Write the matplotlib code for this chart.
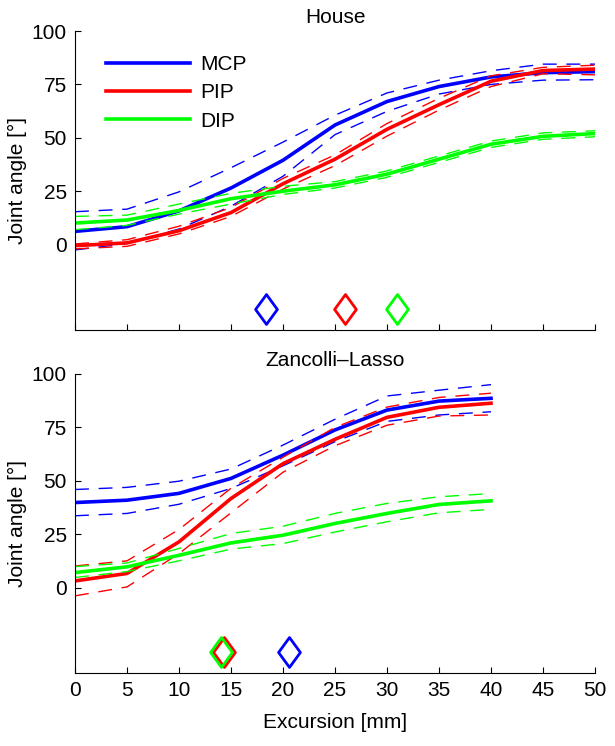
import matplotlib
matplotlib.use("Agg")
import matplotlib.pyplot as plt
from matplotlib.path import Path

plt.rcParams['font.family'] = ['Liberation Sans', 'DejaVu Sans']
plt.rcParams['font.size'] = 15

# excursion [mm]
house_x = [0, 5, 10, 15, 20, 25, 30, 35, 40, 45, 50]
zl_x = [0, 5, 10, 15, 20, 25, 30, 35, 40]

# House: mean and upper / lower dashed bands
house_mcp = [6.2, 8.4, 15.8, 26.5, 39.5, 56, 67, 74, 78.5, 80.5, 81]
house_mcp_hi = [15.4, 16.6, 24.7, 36, 48, 60.6, 71, 77, 81.4, 84.5, 84.5]
house_mcp_lo = [-2.5, 0.5, 7.3, 18, 32, 51.5, 62.4, 70.5, 75, 77, 77.2]
house_pip = [-0.5, 0.8, 6.5, 15, 28.5, 40, 54, 65.5, 76.5, 81.5, 82.2]
house_pip_hi = [0.3, 2.3, 8.6, 17.4, 31, 42, 56.7, 68.5, 79, 83, 84]
house_pip_lo = [-2.0, -0.8, 5.0, 13.2, 26, 37, 50.8, 63, 74, 80, 79.5]
house_dip = [10.1, 11.5, 16, 21.5, 25, 28, 33, 40, 47, 50.7, 52]
house_dip_hi = [13.2, 13.8, 19, 24, 27.3, 29.5, 34.5, 41.5, 48.5, 52.3, 53.3]
house_dip_lo = [7, 9, 14.3, 19, 23.5, 26.5, 31.5, 38.5, 45.5, 49.3, 50.5]

# Zancolli-Lasso
zl_mcp = [39.8, 40.9, 44.1, 51.1, 62, 73.8, 83.1, 87.3, 88.6]
zl_mcp_hi = [45.9, 46.9, 49.8, 55.5, 66.7, 78.8, 89.7, 92.4, 95]
zl_mcp_lo = [33.6, 34.7, 39, 46.4, 57, 68.3, 77.8, 80.8, 82.3]
zl_pip = [3.1, 6.6, 21.4, 41.7, 58, 69.4, 79.7, 84.4, 86.3]
zl_pip_hi = [10.1, 12.5, 27.2, 46.5, 61, 75, 84.5, 89, 91]
zl_pip_lo = [-3.9, 0.3, 15.9, 35, 54, 66.4, 76, 80.3, 80.8]
zl_dip = [7.0, 9.7, 15.1, 20.9, 24.5, 30, 34.7, 38.9, 40.6]
zl_dip_hi = [9.8, 11.5, 18.3, 25.3, 28.7, 34.7, 39.4, 42.5, 44]
zl_dip_lo = [4.7, 7.5, 12.5, 18, 20.6, 26, 30.8, 35, 36.6]

# diamond markers (MCP, PIP, DIP)
house_marks = [18.4, 26.0, 31.0]
zl_marks = [20.6, 14.3, 14.0]
mark_y = -30

joints = ["MCP", "PIP", "DIP"]
colors = [(0, 0, 1), (1, 0, 0), (0, 1, 0)]

diamond = Path([(0, 1), (0.73, 0), (0, -1), (-0.73, 0), (0, 1)],
	[Path.MOVETO, Path.LINETO, Path.LINETO, Path.LINETO, Path.CLOSEPOLY])


def DrawPanel(ax, xs, means, his, los, marks, title):
	handles = []
	for mean, hi, lo, c in zip(means, his, los, colors):
		ax.plot(xs, hi, color=c, lw=1.0, dashes=(10, 7))
		ax.plot(xs, lo, color=c, lw=1.0, dashes=(10, 7))
		h, = ax.plot(xs, mean, color=c, lw=2.6)
		handles.append(h)
	for m, c in zip(marks, colors):
		ax.plot([m], [mark_y], marker=diamond, markersize=21.5, mfc='none', mec=c, mew=2.0, ls='none')
	ax.set_xlim(0, 50)
	ax.set_ylim(-40, 100)
	ax.set_xticks(range(0, 51, 5))
	ax.set_yticks([0, 25, 50, 75, 100])
	ax.spines['top'].set_visible(False)
	ax.spines['right'].set_visible(False)
	for s in ('left', 'bottom'):
		ax.spines[s].set_linewidth(0.8)
	ax.tick_params(direction='in', length=4, width=0.8, labelsize=15, pad=6)
	ax.set_ylabel("Joint angle [°]", fontsize=15, labelpad=3)
	ax.set_title(title, fontsize=15, pad=6)
	return handles


def Main():
	fig = plt.figure(figsize=(6.15, 7.46), dpi=100)
	ax1 = fig.add_axes([0.122, 0.5576, 0.8455, 0.4008])
	ax2 = fig.add_axes([0.122, 0.0979, 0.8455, 0.4008])

	handles = DrawPanel(ax1, house_x, [house_mcp, house_pip, house_dip],
		[house_mcp_hi, house_pip_hi, house_dip_hi],
		[house_mcp_lo, house_pip_lo, house_dip_lo], house_marks, "House")
	ax1.tick_params(labelbottom=False)
	ax1.legend(handles, joints, loc='upper left', bbox_to_anchor=(0.06, 0.92),
		frameon=False, handlelength=4.0, handletextpad=0.5, labelspacing=0.45,
		borderaxespad=0, borderpad=0, fontsize=15)

	DrawPanel(ax2, zl_x, [zl_mcp, zl_pip, zl_dip],
		[zl_mcp_hi, zl_pip_hi, zl_dip_hi],
		[zl_mcp_lo, zl_pip_lo, zl_dip_lo], zl_marks, "Zancolli\u2013Lasso")
	ax2.set_xlabel("Excursion [mm]", fontsize=15, labelpad=9)

	fig.savefig("out.png", dpi=100)


if __name__ == "__main__":
	Main()
